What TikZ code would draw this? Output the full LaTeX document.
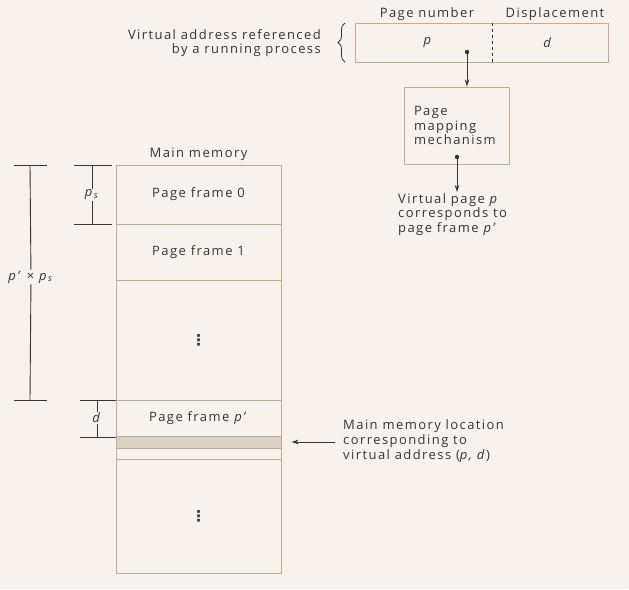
\documentclass[tikz,border=0pt]{standalone}
\usepackage{fontspec}
\setmainfont{Open Sans}[LetterSpace=11]
\newfontfamily\symfont{DejaVu Sans}
\usetikzlibrary{decorations.pathreplacing,arrows.meta}
\definecolor{paper}{HTML}{F7F2EC}
\definecolor{rule}{HTML}{BFAC96}
\definecolor{ink}{HTML}{353535}
\definecolor{band}{HTML}{DAD0C4}
\newcommand{\vdotsym}{{\symfont\bfseries\fontsize{15}{15}\selectfont ⋮}}
\tikzset{
  every node/.style={font=\fontsize{13}{14.8}\selectfont, text=ink, inner sep=1pt},
  box/.style={draw=rule, line width=1pt},
  frame/.style={box, minimum width=165pt, inner sep=0pt},
  dim/.style={draw=ink, line width=0.9pt},
  link/.style={draw=ink, line width=0.9pt, -{Stealth[length=7pt,width=4.5pt]}},
}
\begin{document}
\begin{tikzpicture}[x=1pt,y=-1pt]
\fill[paper] (0,0) rectangle (629,589);
\useasboundingbox (0,0) rectangle (629,589);
% virtual address
\draw[box] (355,23) rectangle (608,62);
\draw[ink, dashed, line width=0.8pt] (492,23) -- (492,62);
\node (pnum) at (427,14) {Page number};
\node (disp) at (555,14) {Displacement};
\node (vp) at (428,43) {\textit{p}};
\node (vd) at (548,43) {\textit{d}};
\draw[ink, line width=0.8pt, decorate, decoration={brace, amplitude=7pt}] (345,62) -- (345,23);
\node[anchor=east, align=right] (valabel) at (322,43) {Virtual address referenced\\by a running process};
% page mapping
\node[box, minimum width=105pt, minimum height=77pt, text width=85pt, inner xsep=10pt, align=left] (map) at (456.5,125.5) {Page\\mapping\\mechanism};
\coordinate (pdot) at (467,52);
\fill[ink] (pdot) circle (2.2pt);
\draw[link] (pdot) -- (pdot |- map.north);
\coordinate (mdot) at (457,157);
\fill[ink] (mdot) circle (2.2pt);
\node[anchor=north west, align=left] (vplabel) at (397,192) {Virtual page \textit{p}\\corresponds to\\page frame \textit{p’}};
\draw[link] (mdot) -- (mdot |- vplabel.north);
% main memory
\node[frame, minimum height=59pt] (f0) at (198.5,194.5) {Page frame 0};
\node[frame, minimum height=56pt] (f1) at (198.5,252) {Page frame 1};
\node[frame, minimum height=120pt] (fdots) at (198.5,340) {\vdotsym};
\node[frame, minimum height=36pt] (fp) at (198.5,418) {Page frame \textit{p’}};
\node[frame, fill=band, minimum height=12pt] (slot) at (198.5,442) {};
\node[frame, minimum height=11pt] (fnext) at (198.5,453.5) {};
\node[frame, minimum height=114pt] (frest) at (198.5,516) {\vdotsym};
\node[above=3pt] (mmlabel) at (f0.north) {Main memory};
% dimensions
\node (ps) at (92,195) {\textit{p}\textsubscript{\textit{s}}};
\draw[dim] (74,165) -- (112,165);
\draw[dim] (74,224) -- (112,224);
\draw[dim] (92,165) -- (ps) -- (92,224);
\node (pxps) at (31,277) {\textit{p’} × \textit{p}\textsubscript{\textit{s}}};
\draw[dim] (14,165) -- (47,165);
\draw[dim] (14,400) -- (47,400);
\draw[dim] (30,165) -- (pxps) -- (30,400);
\node (dd) at (97,418) {\textit{d}};
\draw[dim] (80,400) -- (116,400);
\draw[dim] (80,437) -- (116,437);
\draw[dim] (97,400) -- (dd) -- (97,437);
% location
\node[anchor=west, align=left] (loclabel) at (342,441) {Main memory location\\corresponding to\\virtual address (\textit{p, d})};
\draw[link] ([xshift=-7pt]loclabel.west |- slot.east) -- ([xshift=10pt]slot.east);
\end{tikzpicture}
\end{document}
